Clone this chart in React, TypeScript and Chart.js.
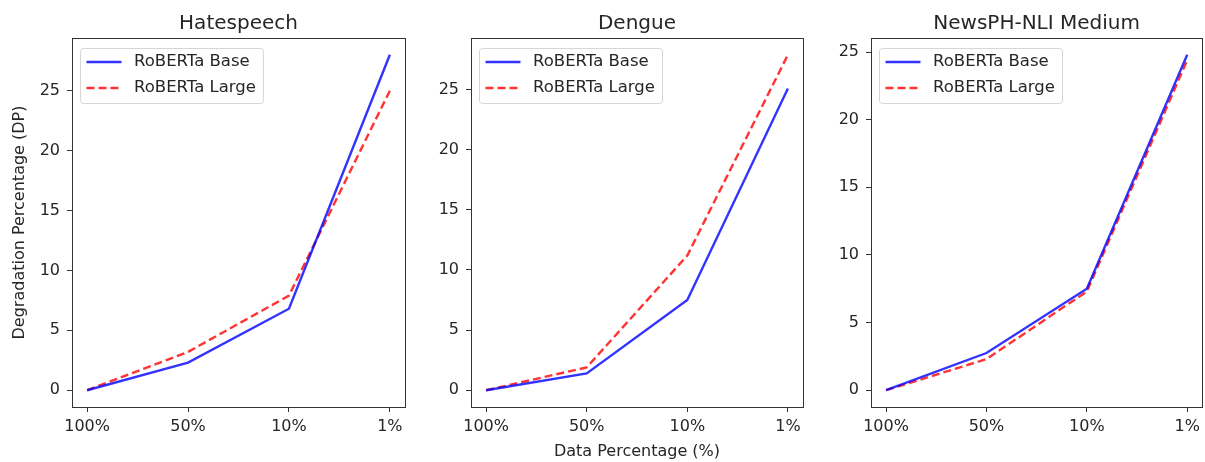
import React, { useEffect, useRef } from "react";
import { Chart, registerables } from "chart.js";

Chart.register(...registerables);

// ---------- data ----------
const xLabels = ["100%", "50%", "10%", "1%"];
const seriesNames = ["RoBERTa Base", "RoBERTa Large"];
const panelTitles = ["Hatespeech", "Dengue", "NewsPH-NLI Medium"];
const hateBase = [0, 2.3, 6.8, 28.0];
const hateLarge = [0, 3.2, 7.9, 25.0];
const dengueBase = [0, 1.4, 7.5, 25.1];
const dengueLarge = [0, 1.9, 11.2, 27.9];
const newsBase = [0, 2.75, 7.5, 24.8];
const newsLarge = [0, 2.3, 7.3, 24.4];
const xAxisTitle = "Data Percentage (%)";
const yAxisTitle = "Degradation Percentage (DP)";
const yTickStep = 5;

// ---------- layout / style ----------
const W = 1205;
const H = 462;
const AREA_TOP = 38;
const AREA_BOTTOM = 407;
const Y_AXIS_W = 50;
const X_AXIS_H = 40;
const FONT = '"DejaVu Sans", "Liberation Sans", sans-serif';
const TEXT = "#262626";
const BLUE = "rgba(0,0,255,0.8)";
const RED = "rgba(255,0,0,0.8)";

const panels = [
  { title: panelTitles[0], base: hateBase, large: hateLarge, left: 72, right: 405, yLabel: true, xLabel: false },
  { title: panelTitles[1], base: dengueBase, large: dengueLarge, left: 471, right: 803, yLabel: false, xLabel: true },
  { title: panelTitles[2], base: newsBase, large: newsLarge, left: 871, right: 1203, yLabel: false, xLabel: false },
];

const decorPlugin = {
  id: "decor",
  afterDatasetsDraw(chart: any) {
    const ctx = chart.ctx;
    const { left, top } = chart.chartArea;
    ctx.save();
    // legend
    const ds = chart.data.datasets;
    ctx.font = `16.5px ${FONT}`;
    const maxW = Math.max(...ds.map((d: any) => ctx.measureText(d.label).width));
    const bx = left + 8.5;
    const by = top + 10.5;
    const bw = 54 + maxW + 7;
    const bh = 55;
    const r = 3;
    ctx.beginPath();
    ctx.moveTo(bx + r, by);
    ctx.lineTo(bx + bw - r, by);
    ctx.quadraticCurveTo(bx + bw, by, bx + bw, by + r);
    ctx.lineTo(bx + bw, by + bh - r);
    ctx.quadraticCurveTo(bx + bw, by + bh, bx + bw - r, by + bh);
    ctx.lineTo(bx + r, by + bh);
    ctx.quadraticCurveTo(bx, by + bh, bx, by + bh - r);
    ctx.lineTo(bx, by + r);
    ctx.quadraticCurveTo(bx, by, bx + r, by);
    ctx.closePath();
    ctx.fillStyle = "rgba(255,255,255,0.8)";
    ctx.fill();
    ctx.strokeStyle = "rgba(204,204,204,0.8)";
    ctx.lineWidth = 1;
    ctx.stroke();
    ds.forEach((d: any, i: number) => {
      const cy = by + 13.5 + i * 26;
      ctx.beginPath();
      ctx.setLineDash(d.borderDash || []);
      ctx.strokeStyle = d.borderColor;
      ctx.lineWidth = d.borderWidth;
      ctx.moveTo(bx + 6, cy);
      ctx.lineTo(bx + 41, cy);
      ctx.stroke();
      ctx.setLineDash([]);
      ctx.fillStyle = TEXT;
      ctx.textAlign = "left";
      ctx.textBaseline = "middle";
      ctx.fillText(d.label, bx + 53.5, cy);
    });
    ctx.restore();
  },
  afterDraw(chart: any, _args: any, opts: any) {
    const ctx = chart.ctx;
    const { left, right, top, bottom } = chart.chartArea;
    ctx.save();
    ctx.strokeStyle = "#333";
    ctx.lineWidth = 1;
    ctx.strokeRect(Math.round(left) + 0.5, Math.round(top) + 0.5, Math.round(right - left), Math.round(bottom - top));
    ctx.fillStyle = TEXT;
    ctx.textAlign = "center";
    ctx.textBaseline = "alphabetic";
    ctx.font = `20px ${FONT}`;
    ctx.fillText(opts.title, (left + right) / 2, top - 9);
    ctx.font = `16px ${FONT}`;
    if (opts.xLabel) ctx.fillText(opts.xLabel, (left + right) / 2, 456);
    if (opts.yLabel) {
      ctx.translate(19.5, (top + bottom) / 2);
      ctx.rotate(-Math.PI / 2);
      ctx.textBaseline = "middle";
      ctx.fillText(opts.yLabel, 0, 0);
    }
    ctx.restore();
  },
};

function Panel({ p }: { p: (typeof panels)[number] }) {
  const ref = useRef<HTMLCanvasElement>(null);
  useEffect(() => {
    if (!ref.current) return;
    const all = [...p.base, ...p.large];
    const dmin = Math.min(...all);
    const dmax = Math.max(...all);
    const m = (dmax - dmin) * 0.05;
    const n = xLabels.length - 1;
    const chart = new Chart(ref.current, {
      type: "line",
      data: {
        datasets: [
          {
            label: seriesNames[0],
            data: p.base.map((y, i) => ({ x: i, y })),
            borderColor: BLUE,
            borderWidth: 2.4,
            pointRadius: 0,
            tension: 0,
            fill: false,
          },
          {
            label: seriesNames[1],
            data: p.large.map((y, i) => ({ x: i, y })),
            borderColor: RED,
            borderWidth: 2.4,
            borderDash: [8, 4],
            pointRadius: 0,
            tension: 0,
            fill: false,
          },
        ],
      },
      options: {
        animation: false,
        responsive: false,
        devicePixelRatio: 1,
        layout: {
          padding: {
            left: p.left - Y_AXIS_W,
            right: W - p.right,
            top: AREA_TOP,
            bottom: H - AREA_BOTTOM - X_AXIS_H,
          },
        },
        plugins: {
          legend: { display: false },
          tooltip: { enabled: false },
          decor: {
            title: p.title,
            xLabel: p.xLabel ? xAxisTitle : "",
            yLabel: p.yLabel ? yAxisTitle : "",
          },
        } as any,
        scales: {
          x: {
            type: "linear",
            min: -0.05 * n,
            max: n + 0.05 * n,
            afterBuildTicks: (s: any) => {
              s.ticks = xLabels.map((_, i) => ({ value: i }));
            },
            afterFit: (s: any) => {
              s.height = X_AXIS_H;
            },
            grid: { drawOnChartArea: false, drawTicks: true, tickLength: 5, color: "#333" },
            border: { display: false },
            ticks: {
              autoSkip: false,
              maxRotation: 0,
              padding: 5,
              color: TEXT,
              font: { family: FONT, size: 16 },
              callback: (v: any) => xLabels[Math.round(Number(v))] ?? "",
            },
          },
          y: {
            type: "linear",
            min: dmin - m,
            max: dmax + m,
            afterFit: (s: any) => {
              s.width = Y_AXIS_W;
            },
            grid: { drawOnChartArea: false, drawTicks: true, tickLength: 5, color: "#333" },
            border: { display: false },
            ticks: {
              stepSize: yTickStep,
              includeBounds: false,
              padding: 7,
              color: TEXT,
              font: { family: FONT, size: 16 },
              callback: (v: any) => String(v),
            },
          },
        },
      },
      plugins: [decorPlugin],
    });
    return () => chart.destroy();
  }, [p]);
  return (
    <canvas
      ref={ref}
      width={W}
      height={H}
      style={{ position: "absolute", left: 0, top: 0, width: W, height: H }}
    />
  );
}

export default function App() {
  useEffect(() => {
    document.body.style.margin = "0";
    document.body.style.background = "#fff";
  }, []);
  return (
    <div style={{ position: "absolute", left: 0, top: 0, width: W, height: H, background: "#fff" }}>
      {panels.map((p, i) => (
        <Panel key={i} p={p} />
      ))}
    </div>
  );
}
